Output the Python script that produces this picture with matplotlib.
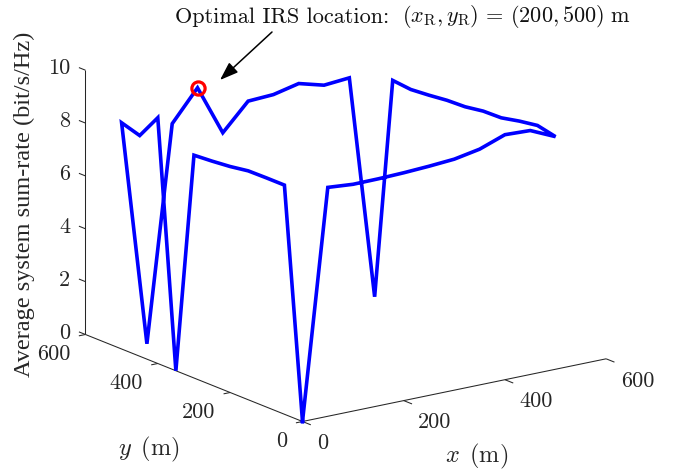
import matplotlib
matplotlib.use("Agg")
import matplotlib.pyplot as plt
from mpl_toolkits.mplot3d import proj3d

plt.rcParams['mathtext.fontset'] = 'cm'

# IRS location path (m) and average sum-rate (bit/s/Hz)
x_pos = [0, 0, 0, 0, 0, 0, 0, 0, 0, 0, 0,
         50, 100, 150, 200, 250, 300, 350, 400, 450, 500,
         500, 500, 500, 500, 500, 500, 500, 500, 500, 500,
         450, 400, 350, 300, 250, 200, 150, 100, 50, 0]
y_pos = [0, 50, 100, 150, 200, 250, 300, 350, 400, 450, 500,
         500, 500, 500, 500, 500, 500, 500, 500, 500, 500,
         450, 400, 350, 300, 250, 200, 150, 100, 50, 0,
         0, 0, 0, 0, 0, 0, 0, 0, 0, 0]
rate = [0.0, 8.67, 8.67, 8.66, 8.55, 8.48, 8.43, 0.0, 9.30, 8.35, 8.56,
        0.0, 8.13, 9.29, 7.39, 8.39, 8.44, 8.66, 8.40, 8.48, 0.0,
        8.46, 8.39, 8.45, 8.53, 8.56, 8.67, 8.69, 8.84, 8.95, 8.80,
        9.23, 9.27, 8.92, 8.74, 8.67, 8.62, 8.59, 8.58, 8.66, 0.0]
best_x, best_y, best_rate = [150], [500], [9.29]

x_ticks = [0, 200, 400, 600]
y_ticks = [0, 200, 400, 600]
z_ticks = [0, 2, 4, 6, 8, 10]

fig = plt.figure(figsize=(6.81, 4.70), dpi=100)
ax = fig.add_axes([0, 0, 1, 1], projection='3d', proj_type='ortho')
ax.set_axis_off()
ax.patch.set_visible(False)
ax.view_init(elev=16.72, azim=-125.67)
ax.set_xlim(0, 600, view_margin=0)
ax.set_ylim(0, 600, view_margin=0)
ax.set_zlim(0, 10, view_margin=0)
ax.set_box_aspect((373.8, 372.3, 276.0), zoom=1)
H = 470


def px(x, y, z):
    X, Y, _ = proj3d.proj_transform(x, y, z, ax.get_proj())
    return ax.transData.transform((X, Y))


# Calibrate so that the box lands where it does in the reference
fig.canvas.draw()
a0, a1 = px(0, 0, 0), px(0, 0, 10)
ax.set_box_aspect((373.8, 372.3, 276.0), zoom=264.3 / (a1[1] - a0[1]))
fig.canvas.draw()
a0 = px(0, 0, 0)
ax.set_position([(302.5 - a0[0]) / 681, (H - 421.5 - a0[1]) / H, 1, 1])
fig.canvas.draw()

axc = '#262626'
axkw = dict(color=axc, lw=0.75, clip_on=False, solid_capstyle='butt')
ax.plot([0, 600], [0, 0], [0, 0], **axkw)
ax.plot([0, 0], [0, 600], [0, 0], **axkw)
ax.plot([0, 0], [600, 600], [0, 10], **axkw)
for t in x_ticks:
    ax.plot([t, t], [0, -23], [0, 0], **axkw)
for t in y_ticks:
    ax.plot([0, -13], [t, t], [0, 0], **axkw)
for t in z_ticks:
    ax.plot([0, 0], [600, 618], [t, t], **axkw)

ax.plot(x_pos, y_pos, rate, color='#0000ff', lw=2.6, clip_on=False,
        solid_joinstyle='miter')
ax.plot(best_x, best_y, best_rate, ls='none', marker='o', ms=9.5, mfc='none',
        mec='#ff0000', mew=2.3, clip_on=False)


def tick_label(x, y, z, s, dx, dy, ha):
    X, Y, _ = proj3d.proj_transform(x, y, z, ax.get_proj())
    ax.annotate(s, (X, Y), xytext=(dx * 0.72, -dy * 0.72), textcoords='offset points',
                ha=ha, va='center', family='cmr10', fontsize=16, color=axc,
                annotation_clip=False)


for t in x_ticks:
    tick_label(t, 0, 0, str(t), 14.5, 22, 'left')
for t in y_ticks:
    tick_label(0, t, 0, str(t), -15, 19.5, 'right')
for t in z_ticks:
    tick_label(0, 600, t, str(t), -15, -1.5, 'right')

fig.text(24 / 681, 1 - 204 / H, 'Average system sum-rate (bit/s/Hz)', rotation=90,
         ha='center', va='center', family='Liberation Serif', fontsize=17.5, color=axc)
fig.text(149 / 681, 1 - 449 / H, r'$y\ \,(\mathrm{m})$', ha='center', va='center',
         fontsize=17.5, color=axc)
fig.text(477 / 681, 1 - 456 / H, r'$x\ \,(\mathrm{m})$', ha='center', va='center',
         fontsize=17.5, color=axc)
fig.text(175 / 681, 1 - 17 / H, 'Optimal IRS location:', family='cmr10',
         ha='left', va='center', fontsize=16, color='#111111')
fig.text(402 / 681, 1 - 16 / H,
         r'$(x_{\mathrm{R}},y_{\mathrm{R}})\,=\,(200,500)\ \mathrm{m}$',
         ha='left', va='center', fontsize=16, color='#111111')

ax.annotate('', xy=(220 / 681, 1 - 80 / H), xytext=(272 / 681, 1 - 32 / H),
            xycoords='figure fraction', textcoords='figure fraction',
            annotation_clip=False,
            arrowprops=dict(arrowstyle='-|>,head_length=0.7,head_width=0.25',
                            color='black', lw=1.1, mutation_scale=16,
                            shrinkA=0, shrinkB=0))

fig.savefig('out.png', dpi=100)
